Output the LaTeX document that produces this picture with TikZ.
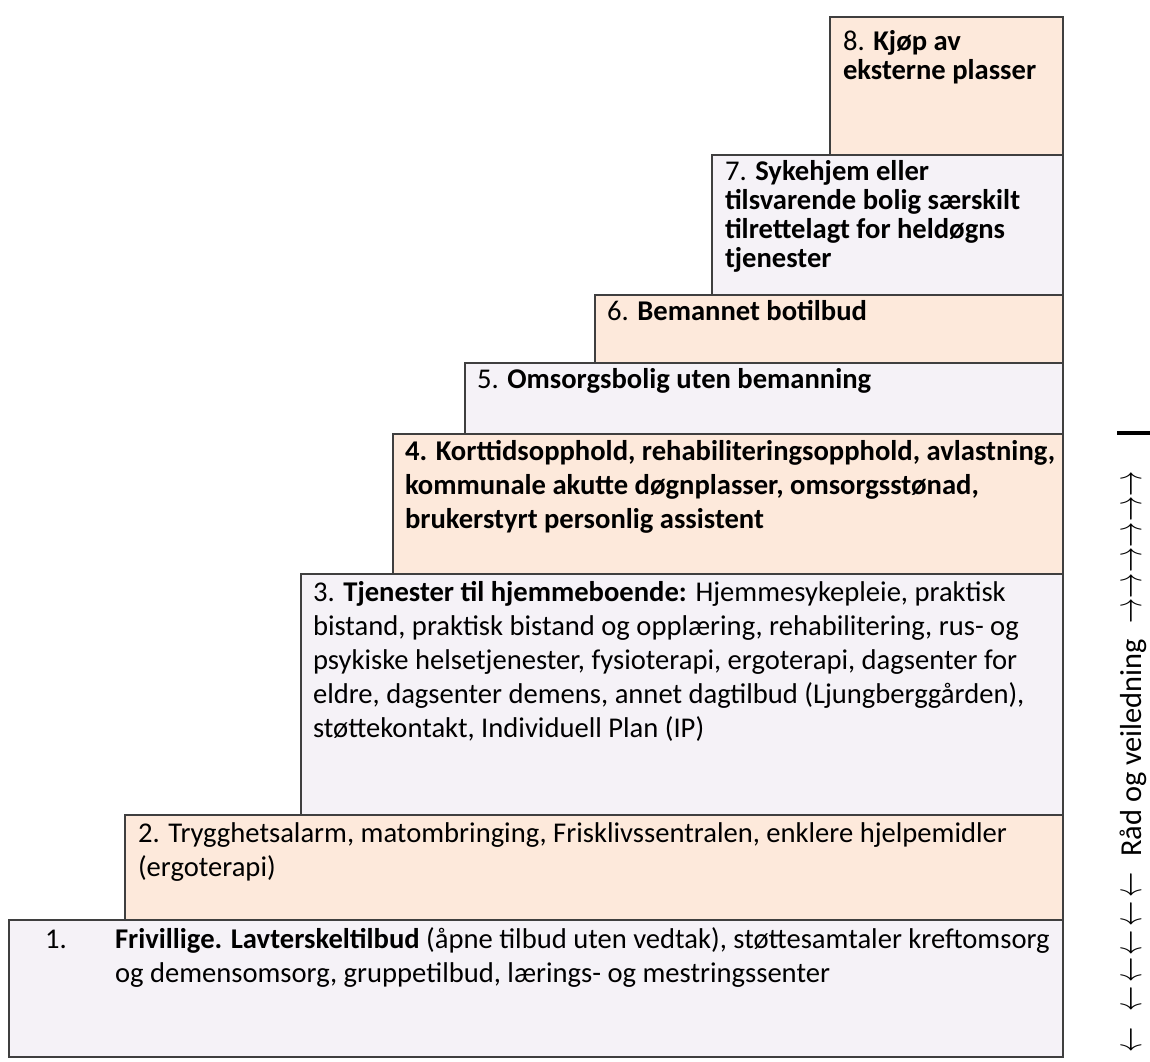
\documentclass[tikz,border=0pt]{standalone}
\usepackage{fontspec}
\setmainfont{Carlito}
\usepackage{graphicx}
\usepackage{xcolor}
\usepackage{tikz}
\definecolor{stepPeach}{HTML}{FDE9DB}
\definecolor{stepLilac}{HTML}{F5F2F7}
\definecolor{stepEdge}{HTML}{3F3F3F}
\newcommand{\lineTop}{\rule{0pt}{12bp}}
\newcommand{\adviceArrow}[1]{\scalebox{1.05}[1.7]{$#1$}}
\newcommand{\upArrows}{\adviceArrow{\rightarrow}\kern0.2bp\adviceArrow{\rightarrow}\kern0.2bp\adviceArrow{\rightarrow}\kern0.2bp\adviceArrow{\rightarrow}\kern0.2bp\adviceArrow{\rightarrow}\kern0.2bp\adviceArrow{\rightarrow}}
\newcommand{\downArrows}{\adviceArrow{\leftarrow}\kern7.9bp\adviceArrow{\leftarrow}\kern1.9bp\adviceArrow{\leftarrow}\kern1bp\adviceArrow{\leftarrow}\kern1.9bp\adviceArrow{\leftarrow}\kern1.9bp\adviceArrow{\leftarrow}}

\begin{document}
\begin{tikzpicture}[x=0.5bp, y=-0.5bp,
			peachStep/.style={fill=stepPeach, draw=stepEdge, line width=1bp},
			lilacStep/.style={fill=stepLilac, draw=stepEdge, line width=1bp},
			stepText/.style={anchor=north west, yshift=12bp, align=left, inner sep=0pt, outer sep=0pt,
				font=\fontsize{14.3bp}{17bp}\selectfont},
			topText/.style={stepText, font=\fontsize{14.3bp}{14.5bp}\selectfont}]
\useasboundingbox (0,0) rectangle (1150,1061);
% the steps, bottom to top
\draw[lilacStep] (9,920) rectangle (1063,1057);
\draw[peachStep] (125,815) rectangle (1063,920);
\draw[lilacStep] (301,574) rectangle (1063,815);
\draw[peachStep] (393,434) rectangle (1063,574);
\draw[lilacStep] (465,363) rectangle (1063,434);
\draw[peachStep] (595,295) rectangle (1063,363);
\draw[lilacStep] (712,155) rectangle (1063,295);
\draw[peachStep] (830,17) rectangle (1063,155);
% texts (placed at the baseline of their first line)
\node[stepText] (numOne) at (45,948) {\lineTop 1.};
\node[stepText] (stepOne) at (115,948) {\lineTop\textbf{Frivillige. Lavterskeltilbud} (åpne tilbud uten vedtak), støttesamtaler kreftomsorg\\
  og demensomsorg, gruppetilbud, lærings- og mestringssenter};
\node[stepText] (stepTwo) at (138,842) {\lineTop 2. Trygghetsalarm, matombringing, Frisklivssentralen, enklere hjelpemidler\\
  (ergoterapi)};
\node[stepText] (stepThree) at (313,601) {\lineTop 3. \textbf{Tjenester til hjemmeboende:} Hjemmesykepleie, praktisk\\
  bistand, praktisk bistand og opplæring, rehabilitering, rus- og\\
  psykiske helsetjenester, fysioterapi, ergoterapi, dagsenter for\\
  eldre, dagsenter demens, annet dagtilbud (Ljungberggården),\\
  støttekontakt, Individuell Plan (IP)};
\node[stepText] (stepFour) at (405,460) {\lineTop\textbf{4. Korttidsopphold, rehabiliteringsopphold, avlastning,}\\
  \textbf{kommunale akutte døgnplasser, omsorgsstønad,}\\
  \textbf{brukerstyrt personlig assistent}};
\node[topText] (stepFive) at (477,388) {\lineTop 5. \textbf{Omsorgsbolig uten bemanning}};
\node[topText] (stepSix) at (607,320) {\lineTop 6. \textbf{Bemannet botilbud}};
\node[topText] (stepSeven) at (725,180) {\lineTop 7. \textbf{Sykehjem eller}\\
  \textbf{tilsvarende bolig særskilt}\\
  \textbf{tilrettelagt for heldøgns}\\
  \textbf{tjenester}};
\node[topText] (stepEight) at (843,50) {\lineTop 8. \textbf{Kjøp av}\\
  \textbf{eksterne plasser}};
% advice along the right side
\node[rotate=90, anchor=base west, inner sep=0pt, font=\fontsize{12.5bp}{17bp}\selectfont] (advice) at (1141,1053)
  {\downArrows\hspace{8bp}{\fontsize{15.2bp}{17bp}\selectfont Råd og veiledning}\hspace{7.5bp}\upArrows\hspace{18bp}\rule[-6bp]{2bp}{18bp}};
\end{tikzpicture}
\end{document}
